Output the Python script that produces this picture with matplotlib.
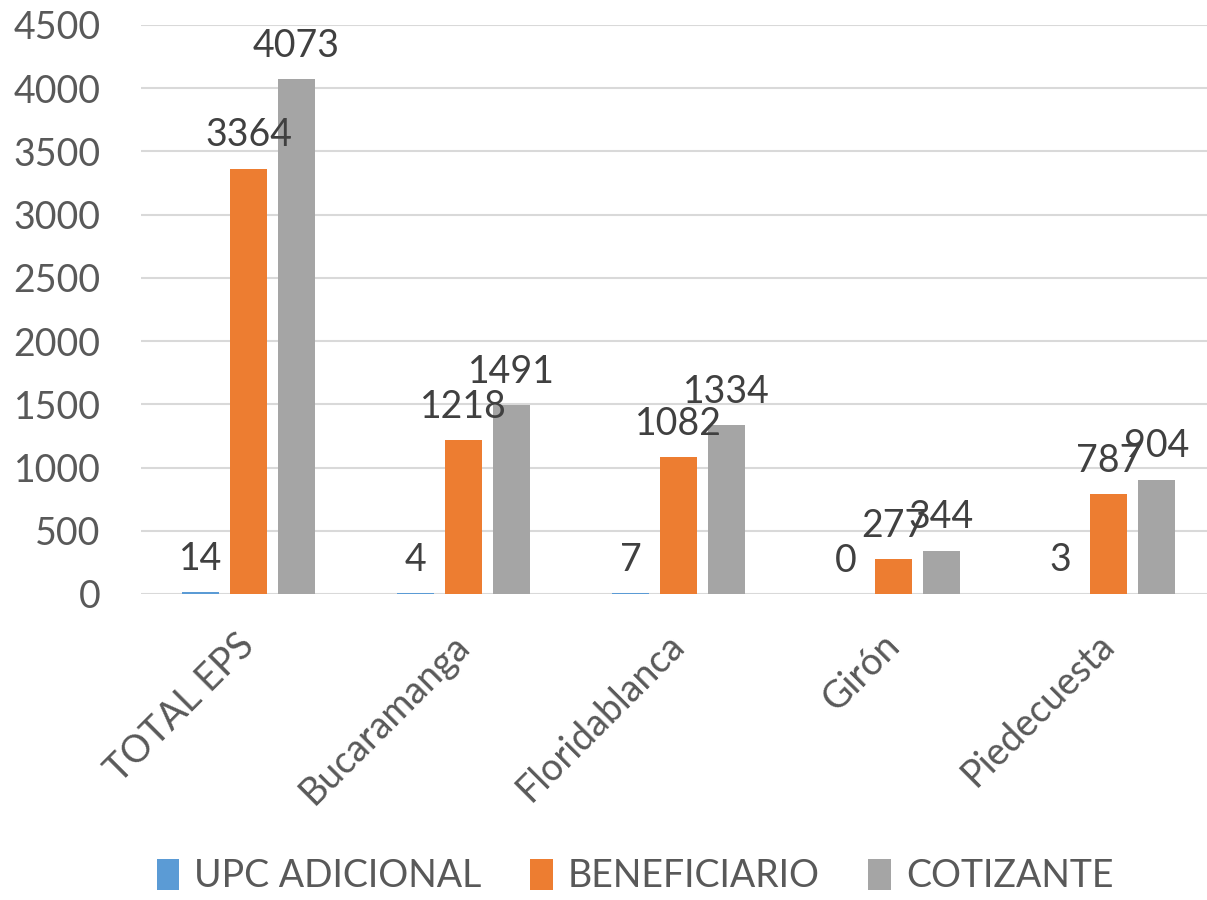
import matplotlib.pyplot as plt
import numpy as np

categorias = ["TOTAL EPS", "Bucaramanga", "Floridablanca", "Girón", "Piedecuesta"]
upc_adicional = [14, 4, 7, 0, 3]
beneficiario = [3364, 1218, 1082, 277, 787]
cotizante = [4073, 1491, 1334, 344, 904]
series = ["UPC ADICIONAL", "BENEFICIARIO", "COTIZANTE"]
colores = ["#5B9BD5", "#ED7D31", "#A5A5A5"]

plt.rcParams['font.family'] = ['Lato', 'DejaVu Sans']

fig = plt.figure(figsize=(12.07, 9), dpi=100)
ax = fig.add_axes([141/1207, 306/900, 1075/1207, 569/900])

x = np.arange(len(categorias))
ancho = 0.172
paso = 0.223
datos = [upc_adicional, beneficiario, cotizante]

for i, (vals, color, nombre) in enumerate(zip(datos, colores, series)):
    pos = x + (i - 1) * paso
    ax.bar(pos, vals, ancho, color=color, label=nombre, zorder=3)
    for p, v in zip(pos, vals):
        ax.annotate(str(v), (p, v), xytext=(0, 11), textcoords="offset points",
                    ha="center", va="bottom", fontsize=27, color="#404040", zorder=4)

ax.set_xlim(-0.5, 4.5)
ax.set_ylim(0, 4500)
ax.set_yticks(np.arange(0, 4501, 500))
ax.yaxis.grid(True, color="#D9D9D9", linewidth=1.5, zorder=0)
ax.set_axisbelow(True)
for s in ax.spines.values():
    s.set_visible(False)
ax.tick_params(axis="both", length=0, labelsize=27, colors="#595959")
ax.tick_params(axis="y", pad=29)

ax.set_xticks(x)
ax.set_xticklabels(categorias, rotation=45, ha="right", va="center",
                   rotation_mode="anchor")
ax.tick_params(axis="x", pad=33)

fig.legend(loc="center", bbox_to_anchor=(635/1207, 24/900), ncol=3, frameon=False,
           fontsize=27, labelcolor="#595959", handlelength=0.6, handleheight=0.9,
           handletextpad=0.4, columnspacing=1.3, borderpad=0.1)

plt.savefig("out.png", dpi=100)
